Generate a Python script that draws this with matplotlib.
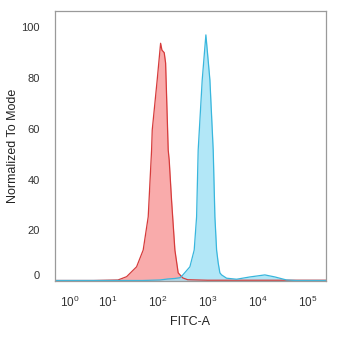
import numpy as np
import matplotlib
matplotlib.use("Agg")
import matplotlib.pyplot as plt
from matplotlib.transforms import ScaledTranslation

plt.rcParams['font.family'] = ['Liberation Sans', 'DejaVu Sans']

# Data (fluorescence intensity, % of mode)
red_x = [-0.6, 5, 16.0, 23.9, 37.9, 51.4, 64.8, 75.7, 78, 98, 114.7, 122, 135.5, 144.5,
         162.9, 170.5, 190, 221.7, 258, 320, 400, 1000, 10000, 233000]
red_y = [0.2, 0.2, 0.4, 1.7, 5.6, 12.2, 25.3, 51.6, 59.5, 79.2, 93.7, 91, 90, 85.9,
         51.6, 47.7, 31.9, 12.2, 3.2, 1.2, 0.5, 0.3, 0.3, 0.3]
cyan_x = [-0.6, 50, 111, 160, 221.7, 280, 320, 442.6, 539.6, 602.8, 648.4, 780.6, 925,
          1113, 1296, 1401, 1515, 1632, 1764, 1909, 2403, 3809, 7029, 14030, 22240,
          38020, 60000, 233000]
cyan_y = [0.2, 0.2, 0.4, 0.8, 1.0, 1.3, 2.4, 5.6, 12.2, 25.3, 51.6, 79.2, 97,
          79.2, 51.6, 25.3, 12.2, 7.1, 3.2, 2.4, 1.1, 0.7, 1.6, 2.4, 1.6,
          0.4, 0.2, 0.2]
xtick_vals = [1, 10, 100, 1000, 10000, 100000]
xtick_labels = ['$\\mathregular{10^{0}}$', '$\\mathregular{10^{1}}$', '$\\mathregular{10^{2}}$',
                '$\\mathregular{10^{3}}$', '$\\mathregular{10^{4}}$', '$\\mathregular{10^{5}}$']
ytick_vals = [0, 20, 40, 60, 80, 100]

C = 2.3
def fwd(x):
    return np.arcsinh(np.asarray(x, dtype=float) / C)
def inv(p):
    return C * np.sinh(np.asarray(p, dtype=float))

fig = plt.figure(figsize=(3.5, 3.45), dpi=100)
ax = fig.add_axes([0.157, 0.1855, 0.774, 0.7825])
ax.set_xscale('function', functions=(fwd, inv))

ax.fill_between(red_x, red_y, 0, color='#f99c9c', alpha=0.85, lw=0)
ax.plot(red_x, red_y, color='#d63b3b', lw=0.9)
ax.fill_between(cyan_x, cyan_y, 0, color='#9fe1f6', alpha=0.8, lw=0)
ax.plot(cyan_x, cyan_y, color='#38b6dd', lw=0.9)

ax.set_xlim(-0.62, 233000)
ax.set_ylim(0, 106.4)

ax.set_xticks(xtick_vals)
ax.set_xticklabels(xtick_labels)
ax.xaxis.set_minor_locator(matplotlib.ticker.NullLocator())
ax.set_yticks(ytick_vals)
ax.set_yticklabels([str(v) for v in ytick_vals])
ax.tick_params(axis='both', length=0, colors='#333333')
ax.tick_params(axis='x', pad=10, labelsize=8.5)
ax.tick_params(axis='y', pad=11, labelsize=8)

for lab in ax.get_yticklabels():
    if lab.get_text() == '0':
        lab.set_transform(lab.get_transform() + ScaledTranslation(0, 4/72, fig.dpi_scale_trans))

for s in ax.spines.values():
    s.set_color('#9a9a9a')
    s.set_linewidth(0.9)

ax.set_xlabel('FITC-A', fontsize=9, color='#222222', labelpad=4)
ax.set_ylabel('Normalized To Mode', fontsize=9, color='#222222')
ax.yaxis.set_label_coords(-0.133, 0.5)

fig.savefig('out.png', dpi=100, facecolor='white')
